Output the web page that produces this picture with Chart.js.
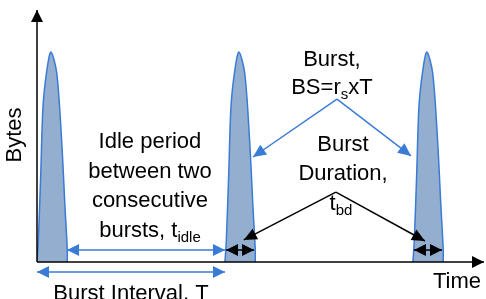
<!DOCTYPE html>
<html>
<head>
<meta charset="utf-8">
<script src="https://cdn.jsdelivr.net/npm/chart.js@4/dist/chart.umd.min.js"></script>
<style>
  html, body { margin: 0; padding: 0; background: #fff; }
  #wrap { width: 486px; height: 299px; }
</style>
</head>
<body>
<div id="wrap"><canvas id="burstChart"></canvas></div>
<script>
// Zeitachse in willkürlichen Einheiten: Burst-Intervall T = 10
const burstStart = [0, 10, 20];
const burstInterval = 10;
const burstDuration = 1.6;

// Form eines Bursts (Offset ab Burst-Beginn, Bytes relativ zum Maximum)
const profileX = [0, 0.07, 0.2, 0.32, 0.52, 0.74, 1.05, 1.31, 1.49, 1.61, 1.61];
const profileY = [0, 0.1, 0.42, 0.74, 0.91, 1.0, 0.9, 0.58, 0.26, 0.06, 0];

const FILL = '#94aed0';
const BLUE = '#3a7bd5';
const FONT = '"Liberation Sans", Arial, sans-serif';

function arrowHead(ctx, x1, y1, x2, y2, len, half) {
  const a = Math.atan2(y2 - y1, x2 - x1);
  ctx.beginPath();
  ctx.moveTo(x2, y2);
  ctx.lineTo(x2 - len * Math.cos(a) + half * Math.sin(a), y2 - len * Math.sin(a) - half * Math.cos(a));
  ctx.lineTo(x2 - len * Math.cos(a) - half * Math.sin(a), y2 - len * Math.sin(a) + half * Math.cos(a));
  ctx.closePath();
  ctx.fill();
}

function arrow(ctx, x1, y1, x2, y2, color, both, len = 12, half = 6) {
  ctx.save();
  ctx.strokeStyle = color;
  ctx.fillStyle = color;
  ctx.lineWidth = 1.5;
  ctx.beginPath();
  ctx.moveTo(x1, y1);
  ctx.lineTo(x2, y2);
  ctx.stroke();
  arrowHead(ctx, x1, y1, x2, y2, len, half);
  if (both) arrowHead(ctx, x2, y2, x1, y1, len, half);
  ctx.restore();
}

// Text mit Tiefstellung: Teile als [text, tief?]
function richText(ctx, parts, cx, cy) {
  const big = '22px ' + FONT, small = '15px ' + FONT;
  let total = 0;
  parts.forEach(p => { ctx.font = p[1] ? small : big; total += ctx.measureText(p[0]).width; });
  let x = cx - total / 2;
  ctx.textAlign = 'left';
  ctx.textBaseline = 'middle';
  parts.forEach(p => {
    ctx.font = p[1] ? small : big;
    ctx.fillText(p[0], x, p[1] ? cy + 7 : cy);
    x += ctx.measureText(p[0]).width;
  });
}

const diagramPlugin = {
  id: 'diagram',
  afterDatasetsDraw(chart) {
    const { ctx, chartArea: ca, scales: { x, y } } = chart;
    const P = (vx, vy) => [x.getPixelForValue(vx), y.getPixelForValue(vy)];
    ctx.save();
    ctx.fillStyle = '#000';

    // Achsen
    arrow(ctx, ca.left, ca.bottom, ca.left, ca.top, '#000', false, 12, 6);
    arrow(ctx, ca.left, ca.bottom, ca.right, ca.bottom, '#000', false, 12, 6);

    // Idle-Pfeil und Burst-Intervall
    const lvl = 0.057;
    let a = P(burstStart[0] + burstDuration, lvl), b = P(burstStart[1], lvl);
    arrow(ctx, a[0], a[1], b[0], b[1], BLUE, true, 12, 6);
    a = P(burstStart[0], -0.048); b = P(burstStart[0] + burstInterval, -0.048);
    arrow(ctx, a[0], a[1], b[0], b[1], BLUE, true, 12, 6);

    // Burst-Dauer an Burst 2 und 3
    [1, 2].forEach(i => {
      const s = P(burstStart[i], lvl), e = P(burstStart[i] + burstDuration, lvl);
      arrow(ctx, s[0] + 1, s[1], e[0] - 1, e[1], '#000', true, 12, 6);
    });

    // Dreieck "Burst, BS"
    let apex = P(15.96, 0.776);
    [P(11.49, 0.5), P(19.9, 0.505)].forEach(t => arrow(ctx, apex[0], apex[1], t[0], t[1], BLUE, false, 13, 6));
    // Dreieck "Burst Duration"
    apex = P(15.9, 0.333);
    [P(11.0, 0.105), P(20.64, 0.1)].forEach(t => arrow(ctx, apex[0], apex[1], t[0], t[1], '#000', false, 13, 6));

    // Beschriftungen
    ctx.fillStyle = '#000';
    let p = P(6.01, 0.571);
    ['Idle period', 'between two', 'consecutive'].forEach((t, i) => richText(ctx, [[t]], p[0], p[1] + i * 29.5));
    richText(ctx, [['bursts, t'], ['idle', true]], p[0], p[1] + 3 * 29.5);

    p = P(15.69, 0.962);
    richText(ctx, [['Burst,']], p[0], p[1]);
    richText(ctx, [['BS=r'], ['s', true], ['xT']], p[0], p[1] + 28);

    p = P(16.28, 0.557);
    richText(ctx, [['Burst']], p[0], p[1]);
    richText(ctx, [['Duration,']], p[0], p[1] + 29);
    richText(ctx, [['t'], ['bd', true]], p[0] - 2, p[1] + 59);

    p = P(22.34, -0.095);
    richText(ctx, [['Time']], p[0], p[1]);
    p = P(5.0, -0.152);
    richText(ctx, [['Burst Interval, T']], p[0], p[1]);

    p = P(-1.17, 0.605);
    ctx.save();
    ctx.translate(p[0], p[1]);
    ctx.rotate(-Math.PI / 2);
    richText(ctx, [['Bytes']], 0, 0);
    ctx.restore();

    ctx.restore();
  }
};

const datasets = burstStart.map(s => ({
  data: profileX.map((dx, i) => ({ x: s + dx, y: profileY[i] })),
  fill: 'origin',
  backgroundColor: FILL,
  borderColor: BLUE,
  borderWidth: 1.5,
  pointRadius: 0,
  tension: 0.3
}));

new Chart(document.getElementById('burstChart'), {
  type: 'line',
  data: { datasets },
  options: {
    responsive: true,
    maintainAspectRatio: false,
    animation: false,
    layout: { padding: { left: 37, right: 2, top: 10, bottom: 37 } },
    plugins: { legend: { display: false }, tooltip: { enabled: false } },
    scales: {
      x: { type: 'linear', min: 0, max: 23.78, display: false },
      y: { min: 0, max: 1.2, display: false }
    }
  },
  plugins: [diagramPlugin]
});
</script>
</body>
</html>
